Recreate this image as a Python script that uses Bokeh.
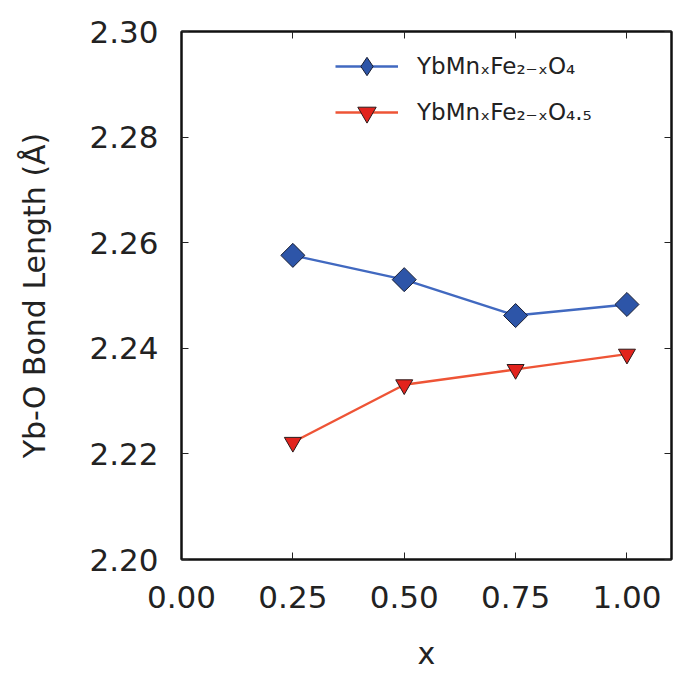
import math
from bokeh.plotting import figure
from bokeh.models import (LinearAxis, FixedTicker, NumeralTickFormatter, CustomJSTickFormatter,
                          Range1d, Legend, LegendItem)
from bokeh.embed import file_html
from bokeh.resources import INLINE

x_vals = [0.25, 0.50, 0.75, 1.00]
bond_o4 = [2.2576, 2.2530, 2.2462, 2.2483]
bond_o45 = [2.2222, 2.2331, 2.2360, 2.2389]
label_o4 = "YbMnₓFe₂₋ₓO₄"
label_o45 = "YbMnₓFe₂₋ₓO₄.₅"
x_ticks = [0.0, 0.25, 0.5, 0.75, 1.0]
y_ticks = [2.20, 2.22, 2.24, 2.26, 2.28, 2.30]

FONT = "DejaVu Sans"

p = figure(width=673, height=673, output_backend="svg", toolbar_location=None,
           x_range=Range1d(0, 1.1), y_range=Range1d(2.20, 2.30),
           min_border_left=181, min_border_right=2, min_border_top=31, min_border_bottom=114,
           background_fill_color="white", border_fill_color="white")
p.xgrid.visible = False
p.ygrid.visible = False
p.outline_line_color = "#111111"
p.outline_line_width = 2

def style_axis(ax, ticks, show_labels):
    ax.ticker = FixedTicker(ticks=ticks)
    ax.major_tick_in = 7
    ax.major_tick_out = 0
    ax.minor_tick_in = 0
    ax.minor_tick_out = 0
    ax.major_tick_line_color = "#222222"
    ax.major_tick_line_width = 1
    ax.axis_line_color = "#111111"
    ax.axis_line_width = 2
    if show_labels:
        ax.formatter = NumeralTickFormatter(format="0.00")
        ax.major_label_text_font = FONT
        ax.major_label_text_font_size = "31px"
        ax.major_label_text_color = "#222222"
    else:
        ax.formatter = CustomJSTickFormatter(code="return ''")
        ax.major_label_standoff = 0

xa = p.xaxis[0]
ya = p.yaxis[0]
style_axis(xa, x_ticks, True)
style_axis(ya, y_ticks, True)
xa.major_label_standoff = 26
ya.major_label_standoff = 23
xa.axis_label = "x"
ya.axis_label = "Yb-O Bond Length (Å)"
for ax in (xa, ya):
    ax.axis_label_text_font = FONT
    ax.axis_label_text_font_size = "30px"
    ax.axis_label_text_font_style = "normal"
    ax.axis_label_text_color = "#222222"
xa.axis_label_standoff = 25
ya.axis_label_standoff = 34

top = LinearAxis()
right = LinearAxis()
style_axis(top, x_ticks, False)
style_axis(right, y_ticks, False)
p.add_layout(top, "above")
p.add_layout(right, "right")

l1 = p.line(x_vals, bond_o4, line_color="#4169c0", line_width=2.4)
s1 = p.scatter(x_vals, bond_o4, marker="square", angle=math.pi / 4, size=17,
               fill_color="#2d55a8", line_color="#1a1f33", line_width=1)
l2 = p.line(x_vals, bond_o45, line_color="#ee5436", line_width=2.4)
s2 = p.scatter(x_vals, bond_o45, marker="inverted_triangle", size=17,
               fill_color="#e2231d", line_color="#2a1a1a", line_width=1)
# legend-only sample glyph (diamond) for the first series
k1 = p.scatter(x_vals, bond_o4, marker="diamond", size=17,
               fill_color="#2d55a8", line_color="#1a1f33", line_width=1, visible=False)

legend = Legend(items=[LegendItem(label=label_o4, renderers=[l1, k1]),
                       LegendItem(label=label_o45, renderers=[l2, s2])],
                location=(154, 424), padding=0, spacing=-6, margin=0,
                glyph_width=63, glyph_height=46, label_height=46, label_standoff=19,
                label_text_font=FONT, label_text_font_size="23px", label_text_color="#222222",
                border_line_color=None, background_fill_alpha=0)
p.add_layout(legend, "center")

open("out.html", "w").write(file_html(p, INLINE))
